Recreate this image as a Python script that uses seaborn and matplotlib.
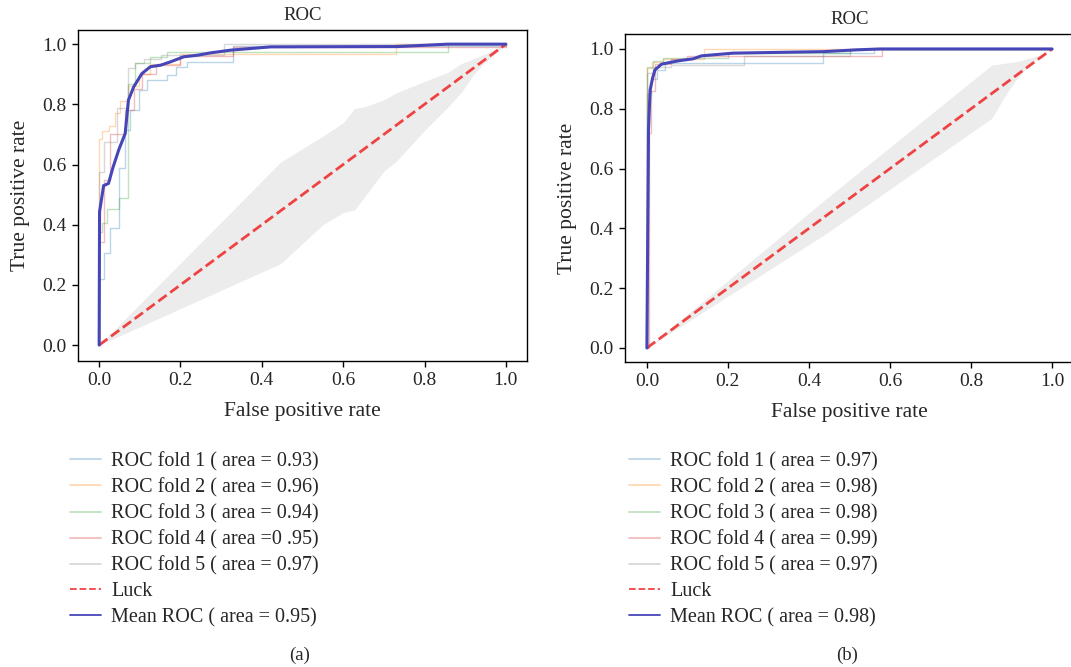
import matplotlib
matplotlib.use("Agg")
import matplotlib.pyplot as plt
import seaborn as sns
import pandas as pd

# ---------------- data (panel a) ----------------
fold1_fpr_a = [0.0, 0.0, 0.011, 0.027, 0.048, 0.064, 0.077, 0.097, 0.118, 0.167, 0.188, 0.216, 0.328, 1.0]
fold1_tpr_a = [0.0, 0.221, 0.305, 0.388, 0.587, 0.714, 0.781, 0.847, 0.880, 0.897, 0.925, 0.941, 0.995, 1.0]
fold2_fpr_a = [0.0, 0.0, 0.007, 0.023, 0.040, 0.052, 0.072, 0.097, 0.126, 0.200, 0.731, 1.0]
fold2_tpr_a = [0.0, 0.686, 0.711, 0.729, 0.772, 0.811, 0.860, 0.900, 0.935, 0.968, 1.0, 1.0]
fold3_fpr_a = [0.0, 0.0, 0.007, 0.020, 0.050, 0.070, 0.089, 0.126, 0.167, 0.858, 1.0]
fold3_tpr_a = [0.0, 0.376, 0.406, 0.453, 0.488, 0.869, 0.936, 0.958, 0.975, 1.0, 1.0]
fold4_fpr_a = [0.0, 0.0, 0.011, 0.027, 0.064, 0.085, 0.105, 0.140, 0.200, 0.330, 1.0]
fold4_tpr_a = [0.0, 0.343, 0.550, 0.701, 0.780, 0.850, 0.900, 0.930, 0.960, 0.990, 1.0]
fold5_fpr_a = [0.0, 0.0, 0.011, 0.044, 0.072, 0.089, 0.110, 0.151, 0.307, 1.0]
fold5_tpr_a = [0.0, 0.576, 0.676, 0.787, 0.920, 0.936, 0.952, 0.965, 1.0, 1.0]
mean_fpr_a = [0.0, 0.001, 0.011, 0.023, 0.034, 0.048, 0.064, 0.072, 0.085, 0.105, 0.126,
              0.151, 0.175, 0.208, 0.241, 0.274, 0.323, 0.422, 0.735, 0.858, 1.0]
mean_tpr_a = [0.0, 0.443, 0.530, 0.537, 0.590, 0.648, 0.703, 0.814, 0.858, 0.902, 0.925,
              0.930, 0.941, 0.958, 0.963, 0.971, 0.980, 0.991, 0.992, 1.0, 1.0]
band_x_a = [0.0, 0.447, 0.55, 0.60, 0.628, 0.653, 0.70, 0.73, 0.80, 0.86, 0.89, 0.92, 0.945, 1.0]
band_lo_a = [0.0, 0.271, 0.400, 0.440, 0.449, 0.493, 0.578, 0.610, 0.713, 0.794, 0.839, 0.897, 0.935, 1.0]
band_hi_a = [0.0, 0.609, 0.694, 0.739, 0.786, 0.792, 0.815, 0.838, 0.876, 0.908, 0.935, 0.951, 0.965, 1.0]
auc_a = ["0.93", "0.96", "0.94", "0.95", "0.97"]
mean_auc_a = "0.95"

# ---------------- data (panel b) ----------------
fold1_fpr_b = [0.0, 0.0, 0.010, 0.025, 0.045, 0.435, 0.560, 1.0]
fold1_tpr_b = [0.0, 0.850, 0.900, 0.930, 0.952, 0.985, 1.0, 1.0]
fold2_fpr_b = [0.0, 0.0, 0.012, 0.040, 0.140, 1.0]
fold2_tpr_b = [0.0, 0.935, 0.958, 0.965, 1.0, 1.0]
fold3_fpr_b = [0.0, 0.0, 0.015, 0.040, 0.200, 0.500, 1.0]
fold3_tpr_b = [0.0, 0.940, 0.960, 0.970, 0.985, 1.0, 1.0]
fold4_fpr_b = [0.0, 0.005, 0.010, 0.020, 0.060, 0.100, 0.580, 1.0]
fold4_tpr_b = [0.0, 0.718, 0.860, 0.950, 0.965, 0.976, 1.0, 1.0]
fold5_fpr_b = [0.0, 0.0, 0.015, 0.060, 0.240, 0.500, 1.0]
fold5_tpr_b = [0.0, 0.920, 0.940, 0.946, 0.975, 1.0, 1.0]
mean_fpr_b = [0.0, 0.004, 0.008, 0.014, 0.020, 0.036, 0.057, 0.081, 0.114, 0.135, 0.213, 0.435, 0.518, 0.575, 1.0]
mean_tpr_b = [0.0, 0.729, 0.863, 0.902, 0.930, 0.949, 0.955, 0.961, 0.967, 0.977, 0.986, 0.991, 0.997, 1.0, 1.0]
band_x_b = [0.0, 0.444, 0.851, 0.888, 0.913, 0.946, 0.970, 1.0]
band_lo_b = [0.0, 0.384, 0.768, 0.852, 0.900, 0.952, 0.970, 1.0]
band_hi_b = [0.0, 0.501, 0.946, 0.953, 0.958, 0.970, 0.980, 1.0]
auc_b = ["0.97", "0.98", "0.98", "0.99", "0.97"]
mean_auc_b = "0.98"

luck_x = [0.0, 1.0]
luck_y = [0.0, 1.0]

fold_colors = ["#1f77b4", "#ff7f0e", "#2ca02c", "#d62728", "#7f7f7f"]
mean_color = "#4646b8"
luck_color = "#f03030"

sns.set_style("ticks")
plt.rcParams["font.family"] = ["Liberation Serif", "DejaVu Serif"]
plt.rcParams["axes.edgecolor"] = "black"
plt.rcParams["axes.linewidth"] = 1.0

fig = plt.figure(figsize=(10.71, 6.67), dpi=100)
ax_a = fig.add_axes([78 / 1071, 1 - 361 / 667, 449 / 1071, 331 / 667])
ax_b = fig.add_axes([625 / 1071, 1 - 362 / 667, 449 / 1071, 328 / 667])


def draw(ax, folds, aucs, mean_fpr, mean_tpr, mean_auc, bx, blo, bhi, xlim, ylim, legx, cap, capx):
    for i, (fx, fy) in enumerate(folds):
        df = pd.DataFrame({"fpr": fx, "tpr": fy})
        lab = f"ROC fold {i + 1} ( area = {aucs[i]})"
        if i == 3 and aucs[i] == "0.95":
            lab = "ROC fold 4 ( area =0 .95)"
        sns.lineplot(data=df, x="fpr", y="tpr", ax=ax, estimator=None, sort=False,
                     drawstyle="steps-post", color=fold_colors[i], alpha=0.3, lw=1, label=lab)
    ax.fill_between(bx, blo, bhi, color="grey", alpha=0.15, lw=0)
    sns.lineplot(x=luck_x, y=luck_y, ax=ax, estimator=None, sort=False, color=luck_color,
                 lw=2, linestyle="--", alpha=0.9, label="Luck")
    sns.lineplot(x=mean_fpr, y=mean_tpr, ax=ax, estimator=None, sort=False, color=mean_color,
                 lw=2.2, label=f"Mean ROC ( area = {mean_auc})")
    ax.set_xlim(*xlim)
    ax.set_ylim(*ylim)
    ax.set_xticks([0.0, 0.2, 0.4, 0.6, 0.8, 1.0])
    ax.set_yticks([0.0, 0.2, 0.4, 0.6, 0.8, 1.0])
    ax.tick_params(labelsize=14, length=4, width=1, color="black", pad=4)
    ax.set_xlabel("False positive rate", fontsize=15.5, labelpad=9)
    ax.set_ylabel("True positive rate", fontsize=15.5, labelpad=9)
    ax.set_title("ROC", fontsize=13.5, pad=7)
    for s in ax.spines.values():
        s.set_visible(True)
        s.set_color("black")
    handles, labels = ax.get_legend_handles_labels()
    leg = ax.legend(handles, labels, loc="upper left", bbox_to_anchor=(legx, 1 - 452 / 667),
                    bbox_transform=fig.transFigure, frameon=False, fontsize=14.5, borderpad=0,
                    borderaxespad=0, labelspacing=0.33, handlelength=1.55, handletextpad=0.5)
    for ln in leg.get_lines():
        ln.set_linewidth(1.3)
    fig.text(capx, 1 - 655 / 667, cap, ha="center", va="center", fontsize=13.5)


draw(ax_a,
     [(fold1_fpr_a, fold1_tpr_a), (fold2_fpr_a, fold2_tpr_a), (fold3_fpr_a, fold3_tpr_a),
      (fold4_fpr_a, fold4_tpr_a), (fold5_fpr_a, fold5_tpr_a)],
     auc_a, mean_fpr_a, mean_tpr_a, mean_auc_a, band_x_a, band_lo_a, band_hi_a,
     (-0.052, 1.052), (-0.053, 1.047), 70 / 1071, "(a)", 300 / 1071)
draw(ax_b,
     [(fold1_fpr_b, fold1_tpr_b), (fold2_fpr_b, fold2_tpr_b), (fold3_fpr_b, fold3_tpr_b),
      (fold4_fpr_b, fold4_tpr_b), (fold5_fpr_b, fold5_tpr_b)],
     auc_b, mean_fpr_b, mean_tpr_b, mean_auc_b, band_x_b, band_lo_b, band_hi_b,
     (-0.054, 1.054), (-0.047, 1.050), 629 / 1071, "(b)", 847 / 1071)

fig.savefig("out.png", dpi=100)
